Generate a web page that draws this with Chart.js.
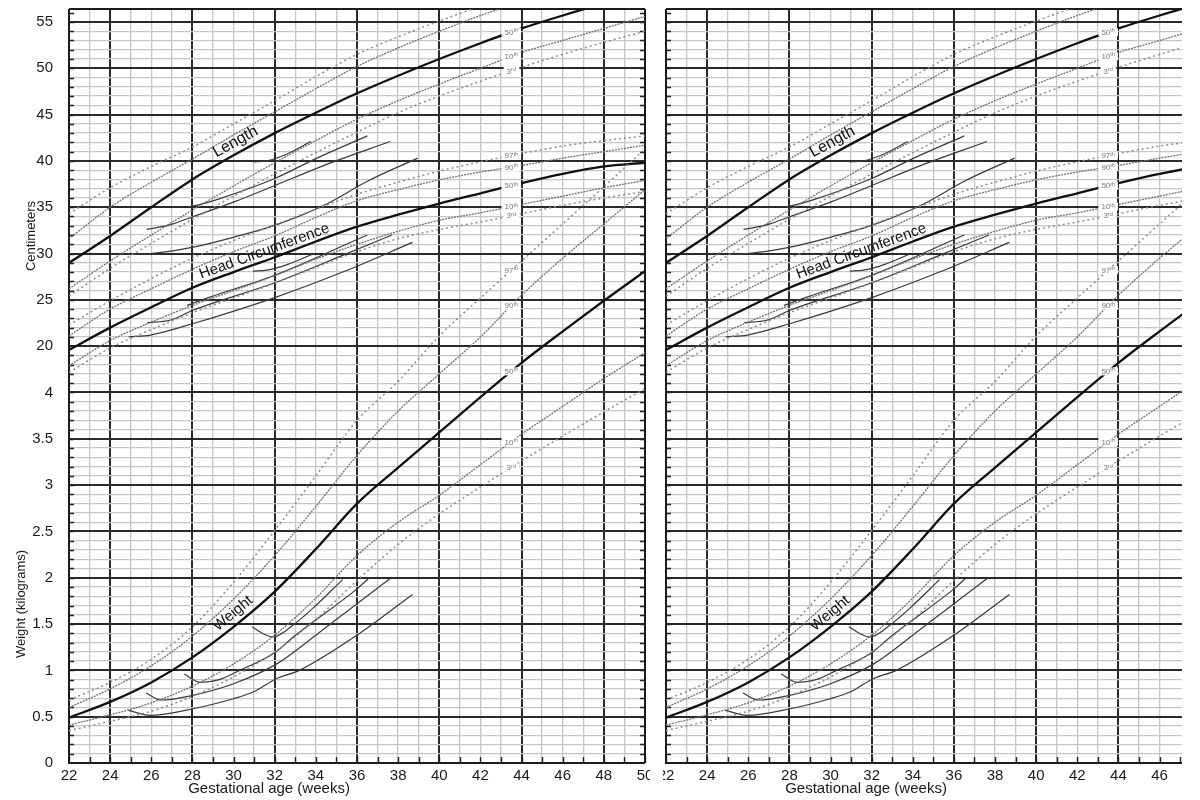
<!DOCTYPE html>
<html><head><meta charset="utf-8">
<script src="https://cdn.jsdelivr.net/npm/chart.js@4.4.0/dist/chart.umd.min.js"></script>
<style>
html,body{margin:0;padding:0;background:#fff;width:1200px;height:800px;overflow:hidden}
#left{position:absolute;left:0;top:0}
#right{position:absolute;left:663px;top:0}
</style></head><body>
<canvas id="left" width="650" height="800"></canvas>
<canvas id="right" width="519" height="800"></canvas>
<script>
// ---------- data (weeks of gestational age) ----------
const weeks = [22,24,26,28,30,32,34,36,38,40,42,44,46,48,50];

// Length (cm)
const length97 = [34.3,37.1,39.4,41.5,44.0,46.5,49.1,51.5,53.4,55.1,56.7,58.2,59.6,60.9,62.1];
const length90 = [31.6,35.0,37.7,40.2,42.8,45.3,47.8,50.2,52.2,54.0,55.7,57.2,58.6,59.9,61.1];
const length50 = [29.0,31.9,35.0,38.0,40.6,43.0,45.2,47.3,49.2,51.0,52.7,54.3,55.7,57.0,58.2];
const length10 = [26.2,29.2,32.0,34.7,37.3,39.8,42.2,44.5,46.5,48.3,50.0,51.7,53.0,54.3,55.6];
const length3  = [25.4,28.4,31.1,33.7,36.2,38.6,40.9,43.1,45.2,47.0,48.6,50.1,51.5,52.8,54.0];

// Head circumference (cm)
const hc97 = [22.3,24.9,27.3,29.5,31.4,33.1,34.8,36.4,37.7,38.9,39.9,40.8,41.6,42.2,42.7];
const hc90 = [21.1,24.0,26.2,28.3,30.2,31.9,33.9,35.7,36.9,37.95,38.8,39.5,40.3,41.0,41.7];
const hc50 = [19.6,22.0,24.2,26.3,28.0,29.6,31.3,32.9,34.2,35.4,36.5,37.6,38.6,39.4,39.8];
const hc10 = [17.9,20.6,22.6,24.4,26.0,27.6,29.4,31.0,32.4,33.6,34.4,35.3,36.2,37.1,37.9];
const hc3  = [17.2,19.8,21.8,23.6,25.2,26.8,28.5,30.2,31.6,32.6,33.4,34.3,35.2,36.0,36.7];

// Weight (kg)
const weight97 = [0.68,0.87,1.12,1.47,1.95,2.51,3.10,3.70,4.12,4.61,5.02,5.42,5.82,6.22,6.63];
const weight90 = [0.60,0.80,1.05,1.37,1.77,2.24,2.77,3.32,3.80,4.20,4.60,5.05,5.45,5.82,6.19];
const weight50 = [0.49,0.66,0.87,1.14,1.47,1.85,2.31,2.80,3.19,3.57,3.95,4.32,4.66,4.99,5.31];
const weight10 = [0.41,0.52,0.65,0.83,1.07,1.38,1.78,2.24,2.60,2.89,3.22,3.55,3.85,4.15,4.43];
const weight3  = [0.35,0.45,0.56,0.72,0.93,1.20,1.55,1.97,2.36,2.69,2.98,3.26,3.53,3.79,4.04];

// Individual infants: [week, value]
const lengthInfantA = [[30.94,39.9],[31.6,40.0],[32.55,40.7],[33.76,42.1]];
const lengthInfantB = [[27.8,35.05],[28.4,35.3],[29.3,35.9],[32.0,38.1],[34.0,40.25],[36.5,42.7]];
const lengthInfantC = [[25.77,32.6],[26.9,33.1],[28.05,34.0],[30.06,35.6],[32.07,37.4],[34.5,39.6],[37.6,42.1]];
const lengthInfantD = [[24.9,29.9],[25.96,30.0],[28.05,30.7],[30.06,31.8],[32.07,33.1],[34.48,35.3],[36.5,37.8],[38.95,40.3]];

const hcInfantA = [[30.94,28.1],[31.6,28.2],[32.6,28.8],[33.8,29.9]];
const hcInfantB = [[27.73,24.4],[28.85,25.3],[32.0,27.66],[36.5,32.0]];
const hcInfantC = [[25.8,22.55],[26.9,22.8],[28.05,23.9],[32.07,26.9],[35.3,29.8],[37.7,32.0]];
const hcInfantD = [[24.9,21.0],[25.96,21.2],[28.05,22.45],[32.07,25.3],[35.3,28.0],[38.7,31.2]];

const weightInfantA = [[30.9,1.47],[31.4,1.40],[31.9,1.36],[32.9,1.49],[33.9,1.68],[35.3,1.98]];
const weightInfantB = [[27.6,0.96],[28.4,0.87],[29.3,0.90],[30.3,1.00],[32.0,1.19],[32.9,1.36],[36.0,1.88],[36.6,2.0]];
const weightInfantC = [[25.74,0.755],[26.5,0.68],[28.0,0.73],[30.0,0.856],[32.1,1.07],[34.0,1.38],[36.0,1.72],[37.6,1.99]];
const weightInfantD = [[24.89,0.568],[25.94,0.514],[28.04,0.586],[29.98,0.694],[30.95,0.766],[32.08,0.91],[33.2,1.0],[36.0,1.38],[38.7,1.82]];

// Tick labels
const xTickLabels = ['22','24','26','28','30','32','34','36','38','40','42','44','46','48','50'];
const kgTickLabels = ['0','0.5','1','1.5','2','2.5','3','3.5','4'];
const cmTickLabels = ['20','25','30','35','40','45','50','55'];

// ---------- shared vertical scale: kg*10 below, cm+25 above ----------
const kgU = v => v * 10;
const cmU = v => v + 25;
const series = (vals, conv) => weeks.map((w, i) => ({x: w, y: conv(vals[i])}));
const track = (pairs, conv) => pairs.map(p => ({x: p[0], y: conv(p[1])}));
function interp(xs, ys, x) {
  for (let i = 0; i < xs.length - 1; i++) {
    if (x >= xs[i] && x <= xs[i+1]) {
      const t = (x - xs[i]) / (xs[i+1] - xs[i]);
      return ys[i] + t * (ys[i+1] - ys[i]);
    }
  }
  return ys[ys.length - 1];
}

const FONT = "'Liberation Sans', Arial, Helvetica, sans-serif";
const STYLE = {
  p50: {borderColor: '#111', borderWidth: 2.3, borderDash: []},
  p9010: {borderColor: '#707070', borderWidth: 1.3, borderDash: [2, 1]},
  p973: {borderColor: '#8c8c8c', borderWidth: 1.5, borderDash: [2, 3]},
  infant: {borderColor: '#3a3a3a', borderWidth: 1.2, borderDash: []}
};

function ds(data, style) {
  return Object.assign({data, pointRadius: 0, fill: false, cubicInterpolationMode: 'monotone'}, style);
}

function buildDatasets() {
  return [
    ds(series(length97, cmU), STYLE.p973), ds(series(length3, cmU), STYLE.p973),
    ds(series(hc97, cmU), STYLE.p973), ds(series(hc3, cmU), STYLE.p973),
    ds(series(weight97, kgU), STYLE.p973), ds(series(weight3, kgU), STYLE.p973),
    ds(series(length90, cmU), STYLE.p9010), ds(series(length10, cmU), STYLE.p9010),
    ds(series(hc90, cmU), STYLE.p9010), ds(series(hc10, cmU), STYLE.p9010),
    ds(series(weight90, kgU), STYLE.p9010), ds(series(weight10, kgU), STYLE.p9010),
    ds(series(length50, cmU), STYLE.p50), ds(series(hc50, cmU), STYLE.p50), ds(series(weight50, kgU), STYLE.p50),
    ds(track(lengthInfantA, cmU), STYLE.infant), ds(track(lengthInfantB, cmU), STYLE.infant),
    ds(track(lengthInfantC, cmU), STYLE.infant), ds(track(lengthInfantD, cmU), STYLE.infant),
    ds(track(hcInfantA, cmU), STYLE.infant), ds(track(hcInfantB, cmU), STYLE.infant),
    ds(track(hcInfantC, cmU), STYLE.infant), ds(track(hcInfantD, cmU), STYLE.infant),
    ds(track(weightInfantA, kgU), STYLE.infant), ds(track(weightInfantB, kgU), STYLE.infant),
    ds(track(weightInfantC, kgU), STYLE.infant), ds(track(weightInfantD, kgU), STYLE.infant)
  ];
}

// percentile labels placed on the curves
const LABEL_WEEK = 43.5;
const pctLabels = [
  [length50, cmU, '50', 'th'], [length10, cmU, '10', 'th'], [length3, cmU, '3', 'rd'],
  [hc97, cmU, '97', 'th'], [hc90, cmU, '90', 'th'], [hc50, cmU, '50', 'th'], [hc10, cmU, '10', 'th'], [hc3, cmU, '3', 'rd'],
  [weight97, kgU, '97', 'th'], [weight90, kgU, '90', 'th'], [weight50, kgU, '50', 'th'], [weight10, kgU, '10', 'th'], [weight3, kgU, '3', 'rd']
];
const bigLabels = [
  [length50, cmU, 30.35, 'Length', 16, 11],
  [hc50, cmU, 31.65, 'Head Circumference', 15, 9],
  [weight50, kgU, 30.3, 'Weight', 15, 10.5]
];

const isInt = v => Math.abs(v - Math.round(v)) < 1e-6;

const framePlugin = {
  id: 'frame',
  beforeDatasetsDraw(chart, args, opts) {
    const {ctx, chartArea: a, scales: {x, y}} = chart;
    ctx.save();
    ctx.strokeStyle = '#222';
    ctx.lineWidth = 1.4;
    ctx.beginPath();
    for (let u = 1; u <= Math.floor(y.max); u++) {
      const py = Math.round(y.getPixelForValue(u)) + 0.5;
      ctx.moveTo(a.left, py); ctx.lineTo(a.left + 5, py);
      if (opts.rightBorder) { ctx.moveTo(a.right - 5, py); ctx.lineTo(a.right, py); }
    }
    for (let w = Math.ceil(x.min); w <= x.max; w++) {
      const px = Math.round(x.getPixelForValue(w)) + 0.5;
      ctx.moveTo(px, a.bottom); ctx.lineTo(px, a.bottom - 6);
    }
    ctx.stroke();
    ctx.strokeStyle = '#1c1c1c';
    ctx.lineWidth = 2;
    ctx.beginPath();
    ctx.moveTo(a.left, a.top); ctx.lineTo(a.right, a.top);
    ctx.moveTo(a.left, a.top); ctx.lineTo(a.left, a.bottom); ctx.lineTo(a.right, a.bottom);
    if (opts.rightBorder) { ctx.moveTo(a.right, a.top); ctx.lineTo(a.right, a.bottom); }
    ctx.stroke();
    ctx.restore();
  }
};

const textPlugin = {
  id: 'texts',
  afterDatasetsDraw(chart, args, opts) {
    const {ctx, chartArea: a, scales: {x, y}} = chart;
    ctx.save();
    ctx.beginPath(); ctx.rect(a.left, a.top, a.right - a.left, a.bottom - a.top); ctx.clip();
    // percentile tags
    pctLabels.forEach(([vals, conv, num, sup]) => {
      const px = x.getPixelForValue(LABEL_WEEK);
      const py = y.getPixelForValue(conv(interp(weeks, vals, LABEL_WEEK)));
      ctx.font = '8px ' + FONT;
      const w1 = ctx.measureText(num).width;
      ctx.font = '5.5px ' + FONT;
      const w2 = ctx.measureText(sup).width;
      const tw = w1 + w2;
      ctx.fillStyle = '#fff';
      ctx.fillRect(px - tw / 2 - 3, py - 4, tw + 6, 8);
      ctx.fillStyle = '#777';
      ctx.textBaseline = 'middle';
      ctx.textAlign = 'left';
      ctx.font = '8px ' + FONT;
      ctx.fillText(num, px - tw / 2, py + 0.5);
      ctx.font = '5.5px ' + FONT;
      ctx.fillText(sup, px - tw / 2 + w1, py - 1.5);
    });
    // curve names
    bigLabels.forEach(([vals, conv, wk, text, size, off]) => {
      const p0x = x.getPixelForValue(wk - 0.6), p0y = y.getPixelForValue(conv(interp(weeks, vals, wk - 0.6)));
      const p1x = x.getPixelForValue(wk + 0.6), p1y = y.getPixelForValue(conv(interp(weeks, vals, wk + 0.6)));
      const ang = Math.atan2(p1y - p0y, p1x - p0x);
      const cx = x.getPixelForValue(wk), cy = y.getPixelForValue(conv(interp(weeks, vals, wk)));
      const tx = cx + Math.sin(ang) * off, ty = cy - Math.cos(ang) * off;
      ctx.save();
      ctx.translate(tx, ty);
      ctx.rotate(ang);
      ctx.font = size + 'px ' + FONT;
      ctx.fillStyle = '#111';
      ctx.textAlign = 'center';
      ctx.textBaseline = 'middle';
      ctx.fillText(text, 0, 0);
      ctx.restore();
    });
    ctx.restore();
    // axis titles
    ctx.save();
    ctx.fillStyle = '#1a1a1a';
    ctx.textAlign = 'center';
    ctx.textBaseline = 'middle';
    ctx.font = '15px ' + FONT;
    ctx.fillText('Gestational age (weeks)', a.left + 200, 789);
    if (opts.yTitles) {
      ctx.font = '13px ' + FONT;
      ctx.translate(31, 236); ctx.rotate(-Math.PI / 2);
      ctx.fillText('Centimeters', 0, 0);
      ctx.setTransform(1, 0, 0, 1, 0, 0);
      ctx.translate(21, 604); ctx.rotate(-Math.PI / 2);
      ctx.fillText('Weight (kilograms)', 0, 0);
    }
    ctx.restore();
  }
};

function gridColor(ctx, majorStep) {
  const v = ctx.tick.value;
  if (!isInt(v)) return 'rgba(0,0,0,0)';
  return (Math.round(v) % majorStep === 0) ? '#2a2a2a' : '#c6c6c6';
}
function gridWidth(ctx, majorStep) {
  const v = ctx.tick.value;
  if (!isInt(v)) return 0;
  return (Math.round(v) % majorStep === 0) ? 2 : 1.3;
}

function makeChart(id, xMax, showY, rightBorder, leftWidth) {
  return new Chart(document.getElementById(id), {
    type: 'line',
    data: {datasets: buildDatasets()},
    options: {
      responsive: false, animation: false, devicePixelRatio: 1,
      layout: {padding: {top: 9, right: rightBorder ? 5 : 0, left: 0, bottom: 0}},
      plugins: {legend: {display: false}, tooltip: {enabled: false},
                frame: {rightBorder}, texts: {yTitles: showY}},
      scales: {
        x: {
          type: 'linear', min: 22, max: xMax,
          afterFit: s => { s.height = 37; s.paddingLeft = 0; s.paddingRight = 0; },
          ticks: {stepSize: 1, autoSkip: false, maxRotation: 0, minRotation: 0, padding: 4,
                  color: '#1a1a1a', font: {family: FONT, size: 15},
                  callback: v => { const i = (v - 22) / 2; return (isInt(i) && i >= 0 && i < xTickLabels.length) ? xTickLabels[Math.round(i)] : ''; }},
          grid: {drawTicks: false, color: c => gridColor(c, 4), lineWidth: c => gridWidth(c, 4)},
          border: {display: false}
        },
        y: {
          type: 'linear', min: 0, max: 81.4,
          afterFit: s => { s.width = leftWidth; s.paddingTop = 0; s.paddingBottom = 0; },
          ticks: {display: showY, stepSize: 1, autoSkip: false, padding: 16,
                  color: '#1a1a1a', font: {family: FONT, size: 15},
                  callback: v => {
                    if (!isInt(v) || Math.round(v) % 5 !== 0) return '';
                    const i = Math.round(v) / 5;
                    return i < kgTickLabels.length ? kgTickLabels[i] : cmTickLabels[i - kgTickLabels.length];
                  }},
          grid: {drawTicks: false, color: c => gridColor(c, 5), lineWidth: c => gridWidth(c, 5)},
          border: {display: false}
        }
      }
    },
    plugins: [framePlugin, textPlugin]
  });
}

makeChart('left', 50, true, true, 69);
makeChart('right', 47.09, false, false, 3);
</script>
</body></html>
